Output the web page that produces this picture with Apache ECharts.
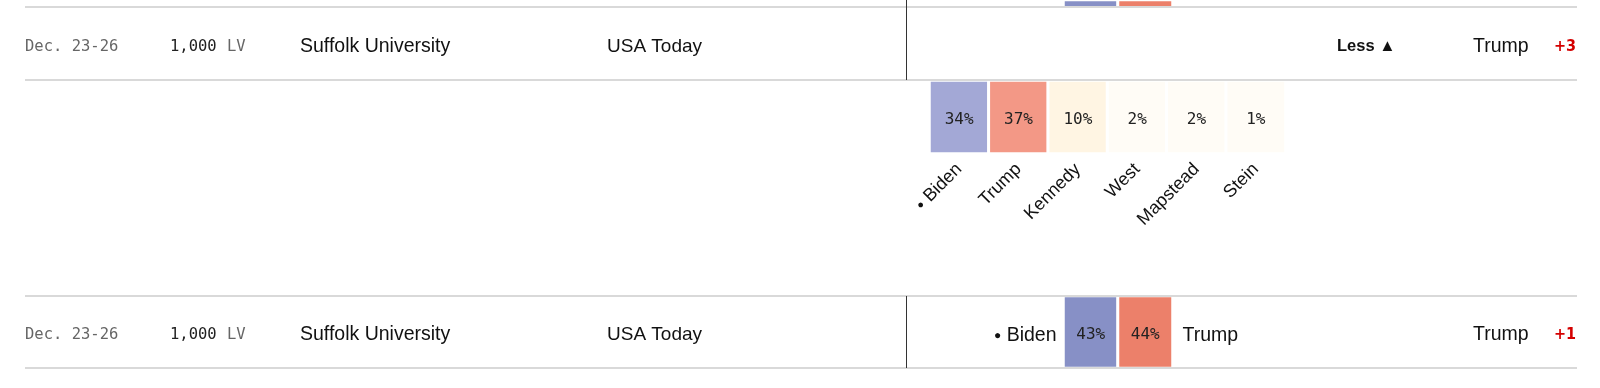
<!DOCTYPE html>
<html><head><meta charset="utf-8">
<script src="https://cdn.jsdelivr.net/npm/echarts@6/dist/echarts.min.js"></script>
<style>html,body{margin:0;padding:0;background:#fff}#c{width:1600px;height:388px}</style>
</head><body><div id="c"></div>
<script>
// ---- data ----
const rowDates = ['Dec. 23-26', 'Dec. 23-26'];
const rowSamples = ['1,000', '1,000'];
const rowPops = ['LV', 'LV'];
const rowPollsters = ['Suffolk University', 'Suffolk University'];
const rowSponsors = ['USA Today', 'USA Today'];
const rowLeaders = ['Trump', 'Trump'];
const rowMargins = ['+3', '+1'];
const rowToggle = ['Less ▲', ''];

const detailCandidates = ['Biden', 'Trump', 'Kennedy', 'West', 'Mapstead', 'Stein'];
const detailValues = [34, 37, 10, 2, 2, 1];
const headCandidates = ['Biden', 'Trump'];
const headValues = [43, 44];
const prevValues = [43, 44]; // row above, cut off by the top edge

// ---- styles ----
const detailColors = ['#a3a8d6', '#f39886', '#fff5e3', '#fffcf6', '#fffcf6', '#fffcf6'];
const headColors = ['#8790c6', '#ec806a'];
const SANS = 'Liberation Sans';
const MONO = 'DejaVu Sans Mono';
const rowY = [46.5, 335];
const lineY = [7, 80, 296, 368];

const chart = echarts.init(document.getElementById('c'), null, {renderer: 'canvas'});

function cells(vals, colors) {
  return vals.map((v, i) => ({value: [i, 0, v], itemStyle: {color: colors[i]}}));
}
const cellLabel = {
  show: true, formatter: p => p.value[2] + '%', offset: [0, 3],
  fontFamily: MONO, fontSize: 16, color: '#222'
};
const cellStyle = {borderColor: '#fff', borderWidth: 3};

const graphics = [];
lineY.forEach(y => graphics.push({
  type: 'line', silent: true, z: 100,
  shape: {x1: 25, y1: y, x2: 1577, y2: y},
  style: {stroke: '#d9d9d9', lineWidth: 2}
}));
[[0, 80], [296, 368]].forEach(([a, b]) => graphics.push({
  type: 'line', silent: true, z: 101,
  shape: {x1: 906.5, y1: a, x2: 906.5, y2: b},
  style: {stroke: '#333', lineWidth: 1}
}));
function txt(x, y, text, font, fill, align) {
  graphics.push({
    type: 'text', x: x, y: y, silent: true,
    style: {text: text, font: font, fill: fill, align: align || 'left', verticalAlign: 'middle',
            textAlign: align || 'left', textVerticalAlign: 'middle'}
  });
}
rowDates.forEach((d, r) => {
  const y = rowY[r];
  txt(25, y, d, '15.5px "' + MONO + '"', '#666');
  txt(170, y, rowSamples[r], '15.5px "' + MONO + '"', '#222');
  txt(227, y, rowPops[r], '15.5px "' + MONO + '"', '#666');
  txt(300, y, rowPollsters[r], '19.5px "' + SANS + '"', '#111');
  txt(607, y, rowSponsors[r], '19px "' + SANS + '"', '#111');
  if (rowToggle[r]) txt(1337, y, rowToggle[r], 'bold 16.5px "' + SANS + '"', '#111');
  txt(1473, y, rowLeaders[r], '19.5px "' + SANS + '"', '#111');
  txt(1554, y, rowMargins[r], 'bold 16px "DejaVu Sans Condensed"', '#d40000');
});

const option = {
  animation: false,
  backgroundColor: '#fff',
  graphic: graphics,
  grid: [
    {left: 1063.5, width: 109, top: 0, height: 7.5},
    {left: 929.5, width: 356, top: 80.5, height: 73},
    {left: 1063.5, width: 109, top: 296, height: 72}
  ],
  xAxis: [
    {gridIndex: 0, type: 'category', data: headCandidates, show: false},
    {gridIndex: 1, type: 'category', data: detailCandidates,
     axisLine: {show: false}, axisTick: {show: false}, splitLine: {show: false},
     axisLabel: {
       interval: 0, rotate: 45, margin: 13, fontFamily: SANS, fontSize: 18, color: '#111',
       formatter: v => v === 'Biden' ? '{d|●} ' + v : v,
       rich: {d: {fontSize: 11, color: '#111'}}
     }},
    {gridIndex: 2, type: 'category', data: headCandidates, show: false}
  ],
  yAxis: [
    {gridIndex: 0, type: 'category', data: [''], show: false},
    {gridIndex: 1, type: 'category', data: [''], show: false},
    {gridIndex: 2, type: 'category', data: [headCandidates[0]], position: 'left',
     axisLine: {show: false}, axisTick: {show: false}, splitLine: {show: false},
     axisLabel: {margin: 7, padding: [8, 0, 0, 0], fontFamily: SANS, fontSize: 19.5, color: '#111',
       formatter: v => '{d|●} ' + v, rich: {d: {fontSize: 12, color: '#111'}}}},
    {gridIndex: 2, type: 'category', data: [headCandidates[1]], position: 'right',
     axisLine: {show: false}, axisTick: {show: false}, splitLine: {show: false},
     axisLabel: {margin: 10, padding: [8, 0, 0, 0], fontFamily: SANS, fontSize: 19.5, color: '#111',
       formatter: v => '{t|' + v + '}',
       rich: {t: {fontFamily: SANS, fontSize: 19.5, color: '#111'}}}}
  ],
  series: [
    {type: 'heatmap', xAxisIndex: 0, yAxisIndex: 0, data: cells(prevValues, headColors),
     itemStyle: cellStyle, label: {show: false}, emphasis: {disabled: true}},
    {type: 'heatmap', xAxisIndex: 1, yAxisIndex: 1, data: cells(detailValues, detailColors),
     itemStyle: cellStyle, label: cellLabel, emphasis: {disabled: true}},
    {type: 'heatmap', xAxisIndex: 2, yAxisIndex: 2, data: cells(headValues, headColors),
     itemStyle: cellStyle, label: cellLabel, emphasis: {disabled: true}}
  ]
};
chart.setOption(option);
</script>
</body></html>
